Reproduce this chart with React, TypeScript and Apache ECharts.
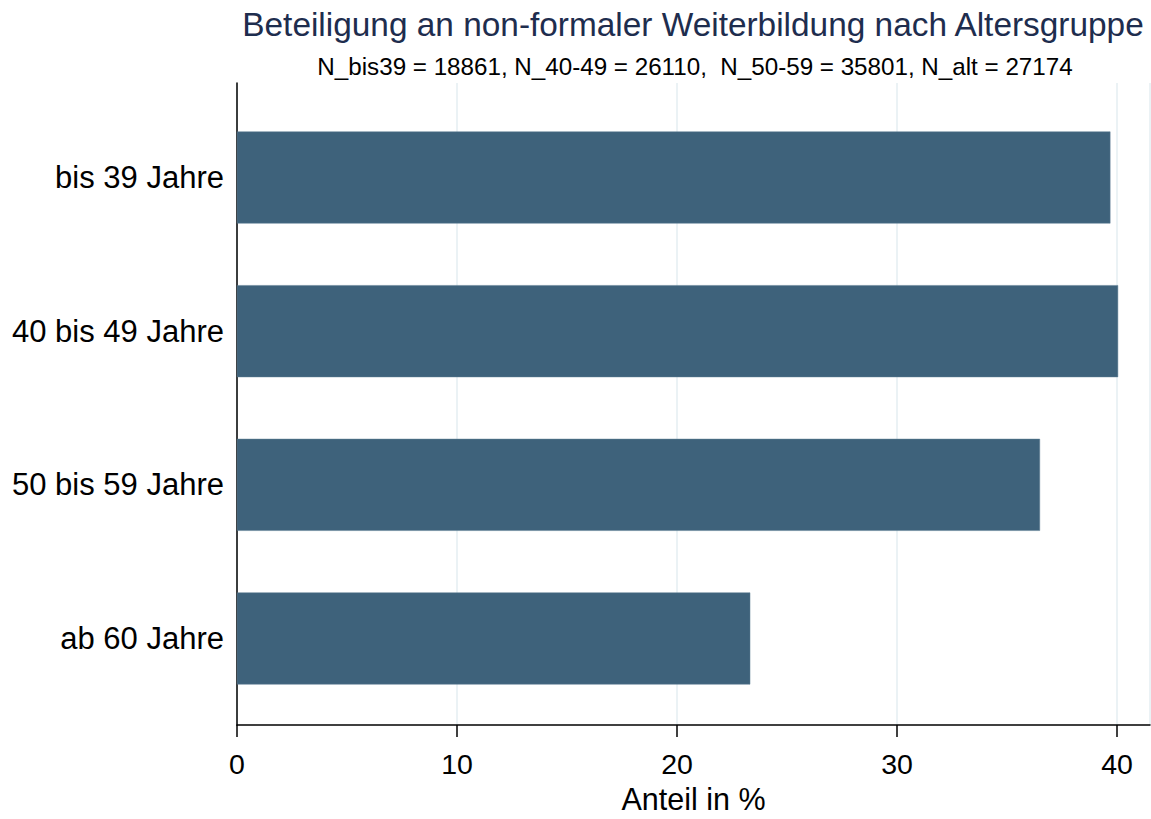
import React, { useEffect, useRef } from "react";
import * as echarts from "echarts";

const categories = ["bis 39 Jahre", "40 bis 49 Jahre", "50 bis 59 Jahre", "ab 60 Jahre"];
const shares = [39.7, 40.05, 36.5, 23.33];
const titleText = "Beteiligung an non-formaler Weiterbildung nach Altersgruppe";
const subtitleText = "N_bis39 = 18861, N_40-49 = 26110,  N_50-59 = 35801, N_alt = 27174";
const xAxisName = "Anteil in %";

export default function App() {
  const ref = useRef<HTMLDivElement>(null);
  useEffect(() => {
    if (!ref.current) return;
    const chart = echarts.init(ref.current, null, { renderer: "svg" });
    const font = "'Liberation Sans', Arial, sans-serif";
    chart.setOption({
      animation: false,
      backgroundColor: "#ffffff",
      textStyle: { fontFamily: font },
      title: [
        {
          text: titleText,
          left: 693,
          top: 8,
          textAlign: "center",
          padding: 0,
          textStyle: { fontSize: 33.4, fontWeight: "normal", color: "#1e2d4e", fontFamily: font },
        },
        {
          text: subtitleText,
          left: 695,
          top: 54,
          textAlign: "center",
          padding: 0,
          textStyle: { fontSize: 24.2, fontWeight: "normal", color: "#000000", fontFamily: font },
        },
      ],
      grid: [
        { left: 237, right: 1, top: 83, bottom: 86, containLabel: false },
        { left: 237, right: 1, top: 100.67, bottom: 103.67, containLabel: false },
      ],
      xAxis: [
        {
          gridIndex: 0,
          type: "value",
          min: 0,
          max: 41.5,
          interval: 10,
          name: xAxisName,
          nameLocation: "middle",
          nameGap: 52,
          nameTextStyle: { fontSize: 30.5, color: "#000", fontFamily: font },
          axisLine: { show: true, lineStyle: { color: "#000", width: 1.5 } },
          axisTick: { show: true, length: 12, lineStyle: { color: "#000", width: 1.5 } },
          axisLabel: { fontSize: 28.5, color: "#000", margin: 24, fontFamily: font, showMaxLabel: false },
          splitLine: { show: true, lineStyle: { color: "#e4eef2", width: 1.5 } },
        },
        {
          gridIndex: 1,
          type: "value",
          min: 0,
          max: 41.5,
          show: false,
        },
      ],
      yAxis: [
        {
          gridIndex: 0,
          type: "value",
          min: 0,
          max: 1,
          axisLine: { show: true, lineStyle: { color: "#000", width: 1.5 } },
          axisTick: { show: false },
          axisLabel: { show: false },
          splitLine: { show: false },
        },
        {
          gridIndex: 1,
          type: "category",
          inverse: true,
          data: categories,
          axisLine: { show: false },
          axisTick: { show: false },
          axisLabel: { fontSize: 31, color: "#000", margin: 13, fontFamily: font },
          splitLine: { show: false },
        },
      ],
      series: [
        {
          type: "bar",
          xAxisIndex: 1,
          yAxisIndex: 1,
          data: shares,
          barWidth: 92,
          itemStyle: { color: "#3e627b", borderColor: "#5d7d93", borderWidth: 0.5 },
        },
      ],
    });
    return () => chart.dispose();
  }, []);
  return (
    <div
      ref={ref}
      style={{ position: "absolute", left: 0, top: 0, width: 1151, height: 819 }}
    />
  );
}
